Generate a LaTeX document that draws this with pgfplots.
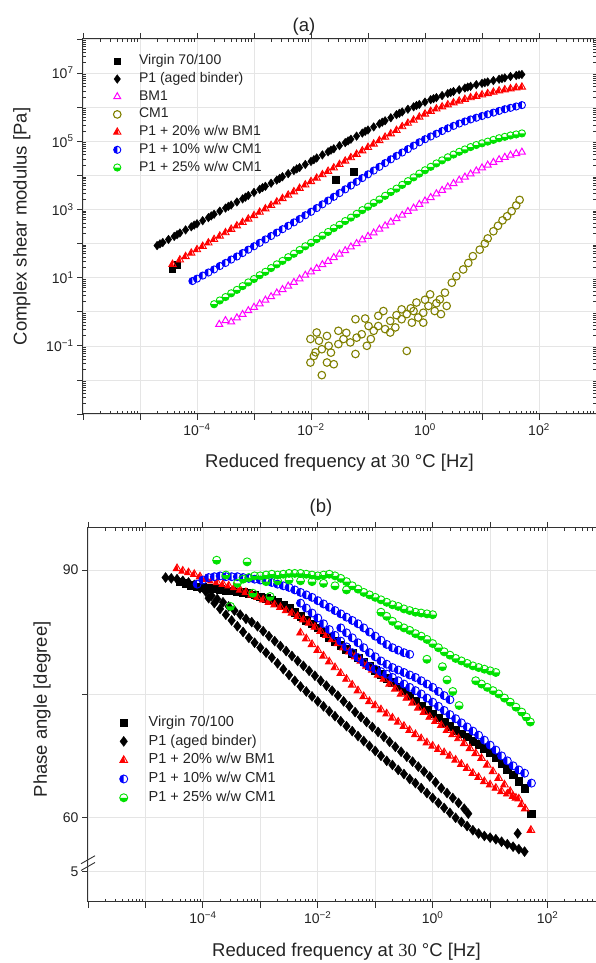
\documentclass[border=0pt]{standalone}
\usepackage{pgfplots}
\usepackage{pgfplotstable}
\pgfplotsset{compat=1.18}
\usepackage{fontspec}
\setmainfont{Liberation Sans}
\newfontfamily\seriffont{Liberation Serif}

\definecolor{cmag}{RGB}{255,0,255}
\definecolor{colive}{RGB}{128,128,0}
\definecolor{cred}{RGB}{255,0,0}
\definecolor{cblue}{RGB}{0,0,255}
\definecolor{cgreen}{RGB}{0,225,0}
\definecolor{txt}{RGB}{35,35,35}

\pgfdeclareplotmark{halftriL}{%
  \pgfpathmoveto{\pgfqpoint{0pt}{\pgfplotmarksize}}%
  \pgfpathlineto{\pgfqpoint{-.866\pgfplotmarksize}{-.5\pgfplotmarksize}}%
  \pgfpathlineto{\pgfqpoint{.35\pgfplotmarksize}{-.5\pgfplotmarksize}}%
  \pgfpathlineto{\pgfqpoint{.2\pgfplotmarksize}{.1\pgfplotmarksize}}%
  \pgfpathclose
  \pgfusepathqfill
  \pgfpathmoveto{\pgfqpoint{0pt}{\pgfplotmarksize}}%
  \pgfpathlineto{\pgfqpoint{-.866\pgfplotmarksize}{-.5\pgfplotmarksize}}%
  \pgfpathlineto{\pgfqpoint{.866\pgfplotmarksize}{-.5\pgfplotmarksize}}%
  \pgfpathclose
  \pgfusepathqstroke
}
\pgfdeclareplotmark{halfcircL}{%
  \pgfpathmoveto{\pgfqpoint{0pt}{\pgfplotmarksize}}%
  \pgfpatharc{90}{270}{\pgfplotmarksize}%
  \pgfpathclose
  \pgfusepathqfill
  \pgfpathcircle{\pgfpointorigin}{\pgfplotmarksize}%
  \pgfusepathqstroke
}
\pgfdeclareplotmark{halfcircB}{%
  \pgfpathmoveto{\pgfqpoint{-\pgfplotmarksize}{0pt}}%
  \pgfpatharc{180}{360}{\pgfplotmarksize}%
  \pgfpathclose
  \pgfusepathqfill
  \pgfpathcircle{\pgfpointorigin}{\pgfplotmarksize}%
  \pgfusepathqstroke
}

\def\minorx{1e-7}
\foreach \e in {-6,...,2}{\foreach \m in {2,...,9}{\xdef\minorx{\minorx,\m e\e}}}
\def\minory{1e-4}
\foreach \e in {-3,...,7}{\foreach \m in {2,...,9}{\xdef\minory{\minory,\m e\e}}}

\pgfplotsset{
  common/.style={
    scale only axis,
    axis line style={black!80, line width=1pt},
    tick style={black!80, line width=0.8pt},
    major tick length=6pt, minor tick length=-3pt,
    tick align=outside,
    grid=major, major grid style={gray!20, line width=0.6pt},
    tick label style={font=\fontsize{14}{16}\selectfont, text=txt},
    label style={font=\fontsize{18.5}{21}\selectfont, text=txt},
    xmin=1e-6, xmax=1e3,
    xtick={1e-6,1e-5,1e-4,1e-3,1e-2,1e-1,1,10,100,1000},
    xticklabels={{},{},10\textsuperscript{−4},{},10\textsuperscript{−2},{},10\textsuperscript{0},{},10\textsuperscript{2},{}},
    minor xtick/.expanded=\minorx,
    legend cell align=left,
    clip mode=individual,
  },
}

% ---------- panel (a): log10 f, log10 |G*| ----------
\pgfplotstableread[row sep=\\]{x y\\
-4.7 1.94\\ -4.6 2.03\\ -4.5 2.12\\ -4.4 2.21\\ -4.3 2.31\\ -4.2 2.40\\ -4.1 2.49\\ -4.0 2.58\\ -3.9 2.67\\ -3.8 2.76\\
-3.7 2.86\\ -3.6 2.95\\ -3.5 3.04\\ -3.4 3.13\\ -3.3 3.22\\ -3.2 3.31\\ -3.1 3.41\\ -3.0 3.50\\ -2.9 3.59\\ -2.8 3.68\\
-2.7 3.77\\ -2.6 3.86\\ -2.5 3.96\\ -2.4 4.05\\ -2.3 4.14\\ -2.2 4.23\\ -2.1 4.32\\ -2.0 4.41\\ -1.9 4.51\\ -1.8 4.60\\
-1.7 4.69\\ -1.6 4.78\\ -1.5 4.87\\ -1.4 4.96\\ -1.3 5.06\\ -1.2 5.15\\ -1.1 5.24\\ -1.0 5.33\\ -0.9 5.42\\ -0.8 5.51\\
-0.7 5.60\\ -0.6 5.69\\ -0.5 5.78\\ -0.4 5.86\\ -0.3 5.94\\ -0.2 6.01\\ -0.1 6.08\\ 0.0 6.15\\ 0.1 6.22\\ 0.2 6.28\\
0.3 6.34\\ 0.4 6.40\\ 0.5 6.46\\ 0.6 6.51\\ 0.7 6.56\\ 0.8 6.61\\ 0.9 6.66\\ 1.0 6.70\\ 1.1 6.74\\ 1.2 6.78\\
1.3 6.82\\ 1.4 6.86\\ 1.5 6.90\\ 1.6 6.93\\ 1.7 6.96\\
-4.65 1.99\\ -4.35 2.26\\ -4.05 2.54\\ -3.75 2.81\\ -3.45 3.09\\ -3.15 3.36\\ -2.85 3.64\\ -2.55 3.91\\ -2.25 4.19\\
-1.95 4.46\\ -1.65 4.74\\ -1.35 5.01\\ -1.05 5.29\\ -0.75 5.56\\ -0.45 5.82\\ -0.15 6.05\\ 0.15 6.25\\ 0.45 6.43\\
0.75 6.59\\ 1.05 6.72\\ 1.35 6.84\\ 1.65 6.95\\
}\aPone

\pgfplotstableread[row sep=\\]{x y\\
-4.43 1.24\\ -4.35 1.38\\ -1.57 3.87\\ -1.25 4.11\\
}\aVirgin

\pgfplotstableread[row sep=\\]{x y\\
-3.61 -0.37\\ -3.5 -0.26\\ -3.4 -0.30\\ -3.3 -0.18\\ -3.2 -0.08\\ -3.1 0.03\\ -3.0 0.13\\ -2.9 0.23\\ -2.8 0.34\\
-2.7 0.44\\ -2.6 0.55\\ -2.5 0.65\\ -2.4 0.75\\ -2.3 0.86\\ -2.2 0.96\\ -2.1 1.07\\ -2.0 1.17\\ -1.9 1.27\\ -1.8 1.38\\
-1.7 1.48\\ -1.6 1.59\\ -1.5 1.69\\ -1.4 1.79\\ -1.3 1.90\\ -1.2 2.00\\ -1.1 2.11\\ -1.0 2.21\\ -0.9 2.31\\ -0.8 2.42\\
-0.7 2.52\\ -0.6 2.63\\ -0.5 2.73\\ -0.4 2.83\\ -0.3 2.94\\ -0.2 3.04\\ -0.1 3.15\\ 0.0 3.25\\ 0.1 3.35\\ 0.2 3.46\\
0.3 3.56\\ 0.4 3.66\\ 0.5 3.76\\ 0.6 3.86\\ 0.7 3.95\\ 0.8 4.04\\ 0.9 4.13\\ 1.0 4.22\\ 1.1 4.30\\ 1.2 4.38\\
1.3 4.46\\ 1.4 4.53\\ 1.5 4.59\\ 1.6 4.64\\ 1.7 4.68\\
}\aBM

\pgfplotstableread[row sep=\\]{x y\\
-2.01 -0.80\\ -1.90 -0.61\\ -2.01 -1.49\\ -1.81 -1.86\\ -1.92 -1.19\\ -1.81 -1.10\\ -1.72 -0.71\\ -1.69 -1.00\\
-1.72 -1.49\\ -1.60 -1.54\\ -1.52 -0.56\\ -1.52 -0.95\\ -1.43 -0.80\\ -1.31 -0.90\\ -1.22 -1.24\\ -1.22 -0.22\\
-1.20 -0.76\\ -1.11 -0.66\\ -1.02 -1.00\\ -0.99 -0.42\\ -0.90 -0.56\\ -0.82 -0.12\\ -0.82 -0.42\\ -0.73 0.02\\
-0.70 -0.51\\ -0.61 -0.61\\ -0.61 -0.27\\ -0.52 -0.46\\ -0.41 0.07\\ -0.41 -0.22\\ -0.32 -1.15\\ -0.32 -0.07\\
-0.23 -0.32\\ -0.20 0.02\\ -0.15 0.27\\ -0.12 -0.17\\ -0.03 -0.03\\ -0.03 -0.32\\ 0.06 0.17\\ 0.09 0.51\\
0.17 0.02\\ 0.26 0.36\\ 0.28 -0.07\\ 0.35 0.56\\ 0.38 0.17\\ 0.47 0.85\\ 0.55 1.04\\ 0.67 1.24\\ 0.76 1.43\\
0.84 1.63\\ 0.96 1.82\\ 1.05 2.00\\ 1.10 2.15\\ 1.20 2.36\\ 1.28 2.52\\ 1.36 2.68\\ 1.44 2.80\\ 1.52 2.95\\
1.60 3.12\\ 1.66 3.28\\ -1.95 -1.30\\ -1.86 -0.85\\ -1.65 -1.20\\ -1.38 -0.62\\ -1.05 -0.20\\ -0.95 -0.80\\
-0.50 -0.10\\ -0.25 0.10\\ 0.00 0.35\\ 0.20 0.25\\
}\aCM

\pgfplotstableread[row sep=\\]{x y\\
-4.43 1.39\\ -4.3 1.52\\ -4.2 1.62\\ -4.1 1.72\\ -4.0 1.82\\ -3.9 1.92\\ -3.8 2.02\\ -3.7 2.12\\ -3.6 2.22\\ -3.5 2.32\\
-3.4 2.42\\ -3.3 2.52\\ -3.2 2.62\\ -3.1 2.72\\ -3.0 2.82\\ -2.9 2.92\\ -2.8 3.02\\ -2.7 3.12\\ -2.6 3.22\\ -2.5 3.32\\
-2.4 3.42\\ -2.3 3.52\\ -2.2 3.62\\ -2.1 3.72\\ -2.0 3.82\\ -1.9 3.92\\ -1.8 4.02\\ -1.7 4.12\\ -1.6 4.22\\ -1.5 4.32\\
-1.4 4.42\\ -1.3 4.52\\ -1.2 4.62\\ -1.1 4.72\\ -1.0 4.82\\ -0.9 4.92\\ -0.8 5.02\\ -0.7 5.12\\ -0.6 5.22\\ -0.5 5.32\\
-0.4 5.43\\ -0.3 5.53\\ -0.2 5.62\\ -0.1 5.71\\ 0.0 5.80\\ 0.1 5.88\\ 0.2 5.95\\ 0.3 6.01\\ 0.4 6.07\\ 0.5 6.13\\
0.6 6.18\\ 0.7 6.23\\ 0.8 6.28\\ 0.9 6.32\\ 1.0 6.36\\ 1.1 6.40\\ 1.2 6.44\\ 1.3 6.48\\ 1.4 6.51\\ 1.5 6.54\\
1.6 6.57\\ 1.7 6.59\\
}\aRed

\pgfplotstableread[row sep=\\]{x y\\
-4.08 0.90\\ -4.0 0.97\\ -3.9 1.06\\ -3.8 1.15\\ -3.7 1.24\\ -3.6 1.34\\ -3.5 1.43\\ -3.4 1.53\\ -3.3 1.62\\ -3.2 1.72\\
-3.1 1.82\\ -3.0 1.92\\ -2.9 2.02\\ -2.8 2.12\\ -2.7 2.22\\ -2.6 2.32\\ -2.5 2.42\\ -2.4 2.52\\ -2.3 2.62\\ -2.2 2.72\\
-2.1 2.83\\ -2.0 2.93\\ -1.9 3.04\\ -1.8 3.15\\ -1.7 3.26\\ -1.6 3.37\\ -1.5 3.48\\ -1.4 3.59\\ -1.3 3.70\\ -1.2 3.81\\
-1.1 3.92\\ -1.0 4.03\\ -0.9 4.14\\ -0.8 4.25\\ -0.7 4.36\\ -0.6 4.47\\ -0.5 4.57\\ -0.4 4.67\\ -0.3 4.77\\ -0.2 4.87\\
-0.1 4.97\\ 0.0 5.06\\ 0.1 5.14\\ 0.2 5.22\\ 0.3 5.30\\ 0.4 5.38\\ 0.5 5.45\\ 0.6 5.52\\ 0.7 5.58\\ 0.8 5.64\\
0.9 5.69\\ 1.0 5.74\\ 1.1 5.79\\ 1.2 5.84\\ 1.3 5.89\\ 1.4 5.94\\ 1.5 5.98\\ 1.6 6.02\\ 1.7 6.06\\
}\aBlue

\pgfplotstableread[row sep=\\]{x y\\
-3.7 0.22\\ -3.6 0.33\\ -3.5 0.43\\ -3.4 0.54\\ -3.3 0.64\\ -3.2 0.75\\ -3.1 0.86\\ -3.0 0.96\\ -2.9 1.07\\ -2.8 1.17\\
-2.7 1.28\\ -2.6 1.39\\ -2.5 1.49\\ -2.4 1.60\\ -2.3 1.70\\ -2.2 1.81\\ -2.1 1.92\\ -2.0 2.02\\ -1.9 2.13\\ -1.8 2.23\\
-1.7 2.34\\ -1.6 2.45\\ -1.5 2.55\\ -1.4 2.66\\ -1.3 2.76\\ -1.2 2.87\\ -1.1 2.98\\ -1.0 3.08\\ -0.9 3.19\\ -0.8 3.29\\
-0.7 3.40\\ -0.6 3.51\\ -0.5 3.61\\ -0.4 3.72\\ -0.3 3.83\\ -0.2 3.94\\ -0.1 4.05\\ 0.0 4.15\\ 0.1 4.25\\ 0.2 4.35\\
0.3 4.44\\ 0.4 4.53\\ 0.5 4.61\\ 0.6 4.69\\ 0.7 4.76\\ 0.8 4.83\\ 0.9 4.89\\ 1.0 4.94\\ 1.1 4.99\\ 1.2 5.04\\
1.3 5.09\\ 1.4 5.13\\ 1.5 5.17\\ 1.6 5.20\\ 1.7 5.23\\
}\aGreen

% ---------- panel (b): log10 f, phase angle ----------
\pgfplotstableread[row sep=\\]{x y\\
-4.4 88.6\\ -4.3 88.4\\ -4.2 88.2\\ -4.1 88.0\\ -4.0 87.9\\ -3.9 87.8\\ -3.8 87.8\\ -3.7 87.7\\ -3.6 87.6\\ -3.5 87.5\\
-3.4 87.4\\ -3.3 87.3\\ -3.2 87.2\\ -3.1 87.0\\ -3.0 86.8\\ -2.9 86.6\\ -2.8 86.4\\ -2.7 86.1\\ -2.6 85.8\\ -2.5 85.4\\
-2.4 84.9\\ -2.3 84.4\\ -2.2 83.9\\ -2.1 83.5\\ -2.0 83.0\\ -1.9 82.5\\ -1.8 81.9\\ -1.7 81.4\\ -1.6 80.9\\ -1.5 80.4\\
-1.4 79.9\\ -1.3 79.4\\ -1.2 78.9\\ -1.1 78.4\\ -1.0 77.9\\ -0.9 77.4\\ -0.8 76.9\\ -0.7 76.4\\ -0.6 75.9\\ -0.5 75.4\\
-0.4 74.8\\ -0.3 74.2\\ -0.2 73.6\\ -0.1 73.1\\ 0.0 72.6\\ 0.1 72.1\\ 0.2 71.6\\ 0.3 71.1\\ 0.4 70.6\\ 0.5 70.2\\
0.6 69.8\\ 0.7 69.3\\ 0.8 68.9\\ 0.9 68.4\\ 1.0 67.9\\ 1.1 67.3\\ 1.2 66.6\\ 1.3 65.9\\ 1.4 65.2\\ 1.5 64.4\\
1.6 63.6\\ 1.72 60.5\\
}\bVirgin

\pgfplotstableread[row sep=\\]{x y\\
-4.65 89.1\\ -4.55 89.0\\ -4.45 88.9\\ -4.35 88.7\\ -4.25 88.5\\ -4.15 88.2\\ -4.05 87.8\\ -3.95 87.4\\ -3.85 86.9\\
-3.75 86.5\\ -3.65 86.1\\ -3.55 85.6\\ -3.45 85.1\\ -3.35 84.6\\ -3.25 84.1\\ -3.15 83.7\\ -3.05 83.2\\ -2.95 82.6\\
-2.85 82.0\\ -2.75 81.4\\ -2.65 80.8\\ -2.55 80.2\\ -2.45 79.6\\ -2.35 79.0\\ -2.25 78.4\\ -2.15 77.8\\ -2.05 77.2\\
-1.95 76.6\\ -1.85 76.0\\ -1.75 75.4\\ -1.65 74.8\\ -1.55 74.1\\ -1.45 73.5\\ -1.35 72.8\\ -1.25 72.2\\ -1.15 71.6\\
-1.05 71.0\\ -0.95 70.4\\ -0.85 69.8\\ -0.75 69.2\\ -0.65 68.6\\ -0.55 68.0\\ -0.45 67.4\\ -0.35 66.8\\ -0.25 66.2\\
-0.15 65.6\\ -0.05 65.0\\ 0.05 64.3\\ 0.15 63.6\\ 0.25 63.0\\ 0.35 62.4\\ 0.45 61.8\\ 0.55 61.1\\ 0.62 60.5\\
-3.9 86.6\\ -3.8 86.0\\ -3.7 85.3\\ -3.6 84.6\\ -3.5 83.9\\ -3.4 83.2\\ -3.3 82.5\\ -3.2 81.8\\ -3.1 81.2\\ -3.0 80.6\\
-2.9 80.0\\ -2.8 79.4\\ -2.7 78.7\\ -2.6 78.0\\ -2.5 77.3\\ -2.4 76.6\\ -2.3 75.9\\ -2.2 75.3\\ -2.1 74.7\\ -2.0 74.1\\
-1.9 73.5\\ -1.8 72.9\\ -1.7 72.3\\ -1.6 71.7\\ -1.5 71.1\\ -1.4 70.5\\ -1.3 69.9\\ -1.2 69.3\\ -1.1 68.7\\ -1.0 68.1\\
-0.9 67.5\\ -0.8 66.9\\ -0.7 66.4\\ -0.6 65.8\\ -0.5 65.3\\ -0.4 64.7\\ -0.3 64.2\\ -0.2 63.6\\ -0.1 63.0\\ 0.0 62.4\\
0.1 61.8\\ 0.2 61.2\\ 0.3 60.6\\ 0.4 60.0\\ 0.5 59.5\\ 0.6 59.0\\ 0.7 58.5\\ 0.8 58.1\\ 0.9 57.8\\ 1.0 57.6\\
1.1 57.4\\ 1.2 57.1\\ 1.3 56.8\\ 1.4 56.5\\ 1.5 56.2\\ 1.6 55.9\\ 1.48 58.1\\
}\bPone

\pgfplotstableread[row sep=\\]{x y\\
-4.45 90.2\\ -4.35 89.9\\ -4.25 89.7\\ -4.15 89.5\\ -4.05 89.2\\ -3.95 88.9\\ -3.85 88.7\\ -3.75 88.5\\ -3.65 88.3\\
-3.55 88.1\\ -3.45 87.9\\ -3.35 87.6\\ -3.25 87.3\\ -3.15 87.0\\ -3.05 86.7\\ -2.95 86.4\\ -2.85 86.1\\ -2.75 85.8\\
-2.65 85.5\\ -2.55 85.1\\ -2.45 84.8\\ -2.35 84.4\\ -2.25 84.0\\ -2.15 83.6\\ -2.05 83.1\\ -1.95 82.6\\ -1.85 82.1\\
-1.75 81.6\\ -1.65 81.1\\ -1.55 80.6\\ -1.45 80.1\\ -1.35 79.5\\ -1.25 79.0\\ -1.15 78.4\\ -1.05 77.9\\ -0.95 77.3\\
-0.85 76.8\\ -0.75 76.2\\ -0.65 75.6\\ -0.55 75.0\\ -0.45 74.5\\ -0.35 73.9\\ -0.25 73.3\\ -0.15 72.8\\ -0.05 72.2\\
0.05 71.7\\ 0.15 71.2\\ 0.25 70.6\\ 0.35 70.1\\ 0.45 69.6\\ 0.55 69.0\\ 0.65 68.4\\ 0.75 67.8\\ 0.85 67.2\\
0.95 66.4\\ 1.05 65.6\\ 1.15 64.8\\ 1.25 64.0\\ 1.35 63.2\\ 1.45 62.4\\ 1.55 61.6\\ 1.61 61.1\\ 1.71 58.5\\
-2.3 82.4\\ -2.2 81.7\\ -2.1 81.0\\ -2.0 80.3\\ -1.9 79.6\\ -1.8 78.9\\ -1.7 78.2\\ -1.6 77.5\\ -1.5 76.8\\ -1.4 76.1\\
-1.3 75.4\\ -1.2 74.7\\ -1.1 74.1\\ -1.0 73.6\\ -0.9 73.1\\ -0.8 72.6\\ -0.7 72.1\\ -0.6 71.6\\ -0.5 71.1\\ -0.4 70.6\\
-0.3 70.1\\ -0.2 69.6\\ -0.1 69.1\\ 0.0 68.7\\ 0.1 68.3\\ 0.2 67.9\\ 0.3 67.5\\ 0.4 67.0\\ 0.5 66.5\\ 0.6 66.0\\
0.7 65.4\\ 0.8 64.9\\ 0.9 64.4\\ 1.0 64.0\\ 1.1 63.6\\ 1.2 63.2\\ 1.3 62.9\\ 1.4 62.6\\ 1.5 62.3\\
}\bRed

\pgfplotstableread[row sep=\\]{x y\\
-4.1 88.3\\ -4.0 88.8\\ -3.9 89.1\\ -3.8 89.2\\ -3.7 89.3\\ -3.6 89.2\\ -3.5 89.2\\ -3.4 89.2\\ -3.3 89.1\\ -3.2 89.0\\
-3.1 88.9\\ -3.0 88.8\\ -2.9 88.7\\ -2.8 88.5\\ -2.7 88.3\\ -2.6 88.1\\ -2.5 87.9\\ -2.4 87.6\\ -2.3 87.3\\ -2.2 87.0\\
-2.1 86.7\\ -2.0 86.3\\ -1.9 85.9\\ -1.8 85.5\\ -1.7 85.1\\ -1.6 84.7\\ -1.5 84.3\\ -1.4 83.9\\ -1.3 83.5\\ -1.2 83.0\\
-1.1 82.5\\ -1.0 82.0\\ -0.9 81.5\\ -0.8 81.0\\ -0.7 80.6\\ -0.6 80.3\\ -0.5 80.0\\ -0.4 79.8\\
-2.3 86.0\\ -2.2 85.4\\ -2.1 84.8\\ -2.0 84.2\\ -1.9 83.5\\ -1.8 82.8\\ -1.7 82.1\\ -1.6 81.4\\ -1.5 80.7\\ -1.4 80.0\\
-1.3 79.4\\ -1.2 78.8\\ -1.1 78.3\\ -1.0 78.0\\ -0.9 77.7\\ -0.8 77.4\\ -0.7 77.0\\ -0.6 76.6\\ -0.5 76.2\\ -0.4 75.8\\
-0.3 75.4\\ -0.2 75.0\\ -0.1 74.5\\ 0.0 74.0\\ 0.1 73.5\\ 0.2 73.0\\ 0.3 72.5\\ 0.4 72.0\\ 0.5 71.5\\ 0.6 71.0\\
0.7 70.5\\ 0.8 70.0\\ 0.9 69.4\\ 1.0 68.8\\ 1.1 68.2\\ 1.2 67.5\\ 1.3 66.9\\ 1.4 66.3\\ 1.5 65.8\\ 1.6 65.4\\ 1.72 64.2\\
-1.6 83.0\\ -1.5 82.4\\ -1.4 81.8\\ -1.3 81.2\\ -1.2 80.6\\ -1.1 80.0\\ -1.0 79.5\\ -0.9 79.0\\ -0.8 78.6\\ -0.7 78.2\\
-0.6 77.9\\ -0.5 77.6\\ -0.4 77.3\\ -0.3 77.0\\ -0.2 76.6\\ -0.1 76.2\\ 0.0 75.8\\ 0.1 75.3\\ 0.2 74.8\\ 0.3 74.3\\
}\bBlue

\pgfplotstableread[row sep=\\]{x y\\
-3.76 91.2\\ -3.23 91.0\\ -3.52 85.6\\ -3.13 87.2\\ -2.83 86.8\\ -3.40 88.4\\ -3.6 89.4\\
-3.3 88.9\\ -3.2 89.1\\ -3.1 89.3\\ -3.0 89.3\\ -2.9 89.4\\ -2.8 89.5\\ -2.7 89.4\\ -2.6 89.5\\ -2.5 89.6\\ -2.4 89.6\\
-2.3 89.6\\ -2.2 89.5\\ -2.1 89.4\\ -2.0 89.3\\ -1.9 89.4\\ -1.8 89.5\\ -1.7 89.3\\ -1.6 89.0\\ -1.5 88.6\\ -1.4 88.1\\
-1.3 87.7\\ -1.2 87.3\\ -1.1 87.0\\ -1.0 86.7\\ -0.9 86.4\\ -0.8 86.1\\ -0.7 85.8\\ -0.6 85.6\\ -0.5 85.3\\ -0.4 85.1\\
-0.3 84.9\\ -0.2 84.8\\ -0.1 84.7\\ 0.0 84.6\\
-2.9 88.6\\ -2.7 88.7\\ -2.5 88.8\\ -2.3 88.7\\ -2.1 88.6\\ -1.9 88.4\\ -1.7 88.1\\ -1.5 87.6\\
-0.9 84.9\\ -0.8 84.4\\ -0.7 83.8\\ -0.6 83.3\\ -0.5 83.0\\ -0.4 82.7\\ -0.3 82.3\\ -0.2 82.0\\ -0.1 81.6\\ 0.0 81.1\\
0.1 80.6\\ 0.2 80.1\\ 0.3 79.7\\ 0.4 79.3\\ 0.5 79.0\\ 0.6 78.7\\ 0.7 78.4\\ 0.8 78.2\\ 0.9 78.0\\ 1.0 77.8\\ 1.1 77.6\\
0.75 76.6\\ 0.85 76.2\\ 0.95 75.8\\ 1.05 75.4\\ 1.15 75.0\\ 1.25 74.5\\ 1.35 74.0\\ 1.45 73.4\\ 1.55 72.8\\ 1.63 72.2\\ 1.7 71.6\\
-0.1 79.2\\ 0.17 78.3\\ 0.25 76.7\\ 0.35 75.3\\ 0.46 73.6\\
}\bGreen

\begin{document}
\begin{tikzpicture}
\useasboundingbox (0pt,0pt) rectangle (595pt,963pt);

\node[font=\fontsize{18.5}{21}\selectfont, text=txt] at (304pt,936pt) {(a)};
\node[font=\fontsize{18.5}{21}\selectfont, text=txt] at (321pt,455pt) {(b)};

\begin{loglogaxis}[common,
  at={(83pt,549pt)}, anchor=south west,
  width=513pt, height=375pt,
  ymin=1e-3, ymax=1e8,
  ytick={1e-3,1e-2,1e-1,1,10,100,1e3,1e4,1e5,1e6,1e7,1e8},
  yticklabels={{},{},10\textsuperscript{−1},{},10\textsuperscript{1},{},10\textsuperscript{3},{},10\textsuperscript{5},{},10\textsuperscript{7},{}},
  minor ytick/.expanded=\minory,
  xlabel={Reduced frequency at {\seriffont 30} °C [Hz]},
  ylabel={Complex shear modulus [Pa]},
  xlabel style={at={(axis description cs:0.5,-0.131)}, anchor=center},
  ylabel style={at={(axis description cs:-0.119,0.5)}, anchor=center},
  legend style={at={(0.059,0.961)}, anchor=north west, draw=none, fill=none,
    font=\fontsize{14}{16}\selectfont, text=txt, inner sep=0pt, row sep=2.7pt,
    nodes={inner sep=1pt, text height=10pt, text depth=3pt}},
]
\addplot[only marks, mark=square*, mark size=3.2pt, color=black]
  table[x expr=10^(\thisrow{x}), y expr=10^(\thisrow{y})] {\aVirgin};
\addlegendentry{\hspace{17pt}Virgin 70/100}
\addplot[only marks, mark=diamond*, mark size=4.3pt, color=black]
  table[x expr=10^(\thisrow{x}), y expr=10^(\thisrow{y})] {\aPone};
\addlegendentry{\hspace{17pt}P1 (aged binder)}
\addplot[only marks, mark=triangle, mark size=4pt, color=cmag, line width=1pt]
  table[x expr=10^(\thisrow{x}), y expr=10^(\thisrow{y})] {\aBM};
\addlegendentry{\hspace{17pt}BM1}
\addplot[only marks, mark=o, mark size=3.8pt, color=colive, line width=1.1pt]
  table[x expr=10^(\thisrow{x}), y expr=10^(\thisrow{y})] {\aCM};
\addlegendentry{\hspace{17pt}CM1}
\addplot[only marks, mark=halftriL, mark size=4.2pt, color=cred, line width=0.9pt]
  table[x expr=10^(\thisrow{x}), y expr=10^(\thisrow{y})] {\aRed};
\addlegendentry{\hspace{17pt}P1 + 20\% w/w BM1}
\addplot[only marks, mark=halfcircL, mark size=3.6pt, color=cblue, line width=0.9pt]
  table[x expr=10^(\thisrow{x}), y expr=10^(\thisrow{y})] {\aBlue};
\addlegendentry{\hspace{17pt}P1 + 10\% w/w CM1}
\addplot[only marks, mark=halfcircB, mark size=3.6pt, color=cgreen, line width=0.9pt]
  table[x expr=10^(\thisrow{x}), y expr=10^(\thisrow{y})] {\aGreen};
\addlegendentry{\hspace{17pt}P1 + 25\% w/w CM1}
\end{loglogaxis}

\begin{semilogxaxis}[common,
  at={(88pt,61pt)}, anchor=south west,
  width=517pt, height=374pt,
  ymin=49.8, ymax=95.1,
  ytick={53.5,60,75,90},
  yticklabels={5,60,{},90},
  minor ytick={},
  xlabel={Reduced frequency at {\seriffont 30} °C [Hz]},
  ylabel={Phase angle [degree]},
  xlabel style={at={(axis description cs:0.5,-0.133)}, anchor=center},
  ylabel style={at={(axis description cs:-0.089,0.515)}, anchor=center},
  legend style={at={(0.061,0.501)}, anchor=north west, draw=none, fill=none,
    font=\fontsize{14.5}{16}\selectfont, text=txt, inner sep=0pt, row sep=3.3pt,
    nodes={inner sep=1pt, text height=10.5pt, text depth=3pt}},
]
\addplot[only marks, mark=square*, mark size=3.8pt, color=black]
  table[x expr=10^(\thisrow{x}), y=y] {\bVirgin};
\addlegendentry{\hspace{20pt}Virgin 70/100}
\addplot[only marks, mark=diamond*, mark size=5pt, color=black]
  table[x expr=10^(\thisrow{x}), y=y] {\bPone};
\addlegendentry{\hspace{20pt}P1 (aged binder)}
\addplot[only marks, mark=halftriL, mark size=4.4pt, color=cred, line width=0.9pt]
  table[x expr=10^(\thisrow{x}), y=y] {\bRed};
\addlegendentry{\hspace{20pt}P1 + 20\% w/w BM1}
\addplot[only marks, mark=halfcircL, mark size=4pt, color=cblue, line width=0.9pt]
  table[x expr=10^(\thisrow{x}), y=y] {\bBlue};
\addlegendentry{\hspace{20pt}P1 + 10\% w/w CM1}
\addplot[only marks, mark=halfcircB, mark size=4pt, color=cgreen, line width=0.9pt]
  table[x expr=10^(\thisrow{x}), y=y] {\bGreen};
\addlegendentry{\hspace{20pt}P1 + 25\% w/w CM1}
\draw[black!80, line width=0.9pt] ([xshift=-7pt,yshift=-4pt]rel axis cs:0,0.113) -- ([xshift=7pt,yshift=4pt]rel axis cs:0,0.113);
\draw[black!80, line width=0.9pt] ([xshift=-7pt,yshift=-4pt]rel axis cs:0,0.095) -- ([xshift=7pt,yshift=4pt]rel axis cs:0,0.095);
\end{semilogxaxis}
\end{tikzpicture}
\end{document}
